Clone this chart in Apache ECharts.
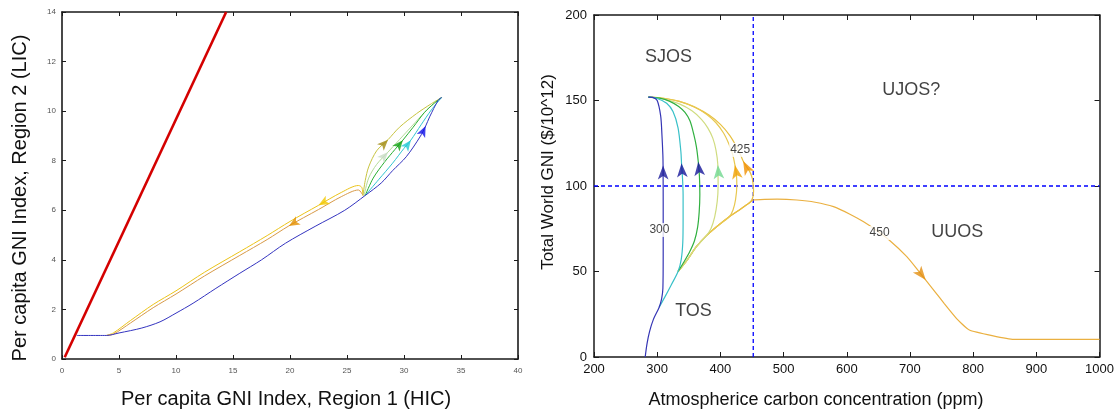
<!DOCTYPE html>
<html><head><meta charset="utf-8">
<script src="https://cdn.jsdelivr.net/npm/echarts@6/dist/echarts.min.js"></script>
<style>html,body{margin:0;padding:0;background:#fff}#c{width:1117px;height:413px}</style>
</head><body><div id="c"></div>
<script>
// ---------- DATA ----------
const leftXTicks = [0, 5, 10, 15, 20, 25, 30, 35, 40];
const leftYTicks = [0, 2, 4, 6, 8, 10, 12, 14];
const rightXTicks = [200, 300, 400, 500, 600, 700, 800, 900, 1000];
const rightYTicks = [0, 50, 100, 150, 200];

// Left panel: per-capita GNI index trajectories [HIC, LIC]
const L_red = [[0.24, 0.07], [14.4, 14]];
const L_blue = [[1.3,0.95],[3.9,0.95],[5,1.05],[7,1.25],[8.6,1.5],[10,1.85],[11.5,2.25],[13.5,2.85],[15.6,3.46],[17.5,4.0],[19.6,4.67],[22.2,5.35],[24.8,6.0],[26.6,6.6],[28,7.1],[29,7.6],[30.2,8.16],[31.4,8.96],[31.9,9.4],[32.25,9.77],[33,10.44],[33.3,10.55]];
const L_cyan = [[26.6,6.6],[27.8,7.25],[29,7.9],[30,8.5],[30.6,8.83],[31.5,9.45],[32.4,10.05],[33.3,10.55]];
const L_green = [[26.6,6.6],[27.3,7.3],[28.3,7.95],[29.2,8.45],[29.9,8.83],[30.8,9.35],[31.8,9.95],[32.6,10.3],[33.3,10.55]];
const L_pale = [[26.5,6.6],[26.9,7.3],[27.6,7.85],[28.6,8.35],[29.6,8.85],[30.7,9.4],[31.8,9.95],[32.6,10.3],[33.3,10.55]];
const L_olive = [[26.4,6.6],[26.6,7.2],[26.9,7.75],[27.6,8.4],[28.6,8.85],[29.6,9.35],[31.1,9.9],[32.4,10.3],[33.3,10.55]];
const L_yellow = [[26.4,6.6],[26.3,6.92],[26,7.0],[24.5,6.72],[22.5,6.2],[20,5.55],[18,4.98],[15.6,4.33],[12.5,3.5],[10,2.75],[8,2.2],[6,1.55],[4.5,1.05],[3.9,0.95]];
const L_orange = [[26.4,6.6],[26,6.82],[24.5,6.55],[22.5,6.03],[19.9,5.37],[18,4.82],[15.6,4.18],[12.5,3.35],[10,2.62],[8,2.07],[6,1.45],[4.5,1.0],[3.9,0.95]];

// Right panel: [ppm, Total World GNI]
const R_trunk = [[333,50],[348,57],[362,64.5],[378,71],[394,76.2],[414,82],[430,86],[441,88.9],[447,90.5]];
const R_300 = [[281,0],[284,8],[288,15],[294,22],[303,29],[307,34],[309,40],[309.5,60],[309.5,90],[309.3,112],[309,118],[307.5,130],[305.5,141],[300,150],[293,151.8],[286,152]];
const R_cyan = [[303,29],[312,35],[322,42],[333,50],[338,57],[340.5,67],[341,80],[341,95],[340,105],[338.5,113.3],[337.5,120],[333,134],[325,143.5],[315,148.4],[300,151.2],[286,152]];
const R_green = [[333,50],[343,56],[352,62],[359,68],[364,76],[366.5,85],[367.5,95],[366.8,106],[365,114.2],[362,123],[358,130],[352,138],[344,143],[334,146.5],[320,149.5],[304,151.4],[286,152]];
const R_paleBranch = [[385,75],[391,82],[395,91],[396.4,100],[396.3,106],[396,112.3],[393,121],[388,128],[380,134],[370,139],[355,144],[335,148],[310,151],[286,152]];
const R_orangeBranch = [[420,86],[424,92],[426,100],[425.5,106],[423,112.3],[419,119],[413,125],[405,131],[393,137],[378,142],[358,146.5],[335,149.5],[310,151.3],[286,152]];
const R_goldBranch = [[451,93],[452.5,97],[452,100],[450.5,104.5],[446.5,108.4],[441,111.5],[436,114.6],[433,117.2],[425.5,123],[415,129.5],[400,136],[382,141.5],[360,146],[335,149.5],[310,151.3],[286,152]];
const R_450 = [[447,90.5],[452,91.8],[470,92.2],[490,92.3],[521,91.8],[550,90.5],[579,87.9],[605,83.5],[626,79.2],[645,74.5],[667,68.4],[695,58.7],[710,52],[725,45],[740,38],[754,31.4],[775,22],[794,15.8],[830,12.5],[864,10.3],[900,10.3],[1000,10.3]];
const R_thresholdX = 452;
const R_thresholdY = 100;
const R_regionLabels = [[318,175.3,'SJOS'],[702,156.2,'UJOS?'],[775,73.1,'UUOS'],[357.5,27.1,'TOS']];
const R_curveLabels = [[303.5,74.3,'300'],[431.3,121.1,'425'],[651.9,72.5,'450']];

// ---------- BUILD ----------
const FONT = 'Liberation Sans, Arial, Helvetica, sans-serif';
const R_pale = R_trunk.slice(0,4).concat(R_paleBranch);
const R_orange = R_trunk.slice(0,6).concat(R_orangeBranch);
const R_gold = R_trunk.slice(0,9).concat(R_goldBranch);
const R_450full = R_trunk.slice(0,8).concat(R_450);
const rxMin = rightXTicks[0], rxMax = rightXTicks[rightXTicks.length - 1];
const ryMin = rightYTicks[0], ryMax = rightYTicks[rightYTicks.length - 1];
const R_vLine = [[R_thresholdX, ryMin], [R_thresholdX, ryMax]];
const R_hLine = [[rxMin, R_thresholdY], [rxMax, R_thresholdY]];

const leftTraj = [
  {d: L_yellow, c: '#ecc418', a: 4, ac: '#f2c800'},
  {d: L_orange, c: '#d89a48', a: 4, ac: '#e49000'},
  {d: L_olive, c: '#c8c440', a: 4, ac: '#a08a10'},
  {d: L_pale, c: '#b4dc98', a: 3, ac: '#c8dcc4'},
  {d: L_green, c: '#28b030', a: 4, ac: '#10a010'},
  {d: L_cyan, c: '#30c4d0', a: 4, ac: '#20c8d4'},
  {d: L_blue, c: '#3434c0', a: 18, ac: '#1010e8'}
];
const rightTraj = [
  {d: R_450full, c: '#eab040', a: 21, ac: '#e48e10', s: 0.15},
  {d: R_gold, c: '#e8c040', a: 15, ac: '#f09000', s: 0.3},
  {d: R_orange, c: '#e8c850', a: 10, ac: '#f0a000', s: 0.3},
  {d: R_pale, c: '#d0dc80', a: 9, ac: '#70d890', s: 0.3},
  {d: R_green, c: '#30b040', a: 8, ac: '#15159a', s: 0.3},
  {d: R_cyan, c: '#38c0c8', a: 9, ac: '#15159a', s: 0.3},
  {d: R_300, c: '#3535b5', a: 9, ac: '#1a1a9a', s: 0.3}
];

function mkAxis(gi, pos, min, max, interval, showLabel, fs, color, margin, lw, tl) {
  return {
    gridIndex: gi, type: 'value', position: pos, min: min, max: max, interval: interval,
    axisLine: {show: true, onZero: false, lineStyle: {color: '#1a1a1a', width: lw}},
    axisTick: {show: true, inside: true, length: tl, lineStyle: {color: '#1a1a1a', width: 1}},
    axisLabel: {show: showLabel, fontSize: fs, color: color, margin: margin, fontFamily: FONT, showMinLabel: true, showMaxLabel: true, formatter: v => String(v)},
    splitLine: {show: false}
  };
}

const series = [];
series.push({type: 'line', xAxisIndex: 0, yAxisIndex: 0, data: L_red, symbol: 'none', lineStyle: {color: '#d40000', width: 2.6}, z: 2});
leftTraj.forEach(t => series.push({type: 'line', xAxisIndex: 0, yAxisIndex: 0, data: t.d, symbol: 'none', smooth: 0.3, lineStyle: {color: t.c, width: 1}, z: 2}));
[R_vLine, R_hLine].forEach(d => series.push({type: 'line', xAxisIndex: 2, yAxisIndex: 2, data: d, symbol: 'none',
  lineStyle: {color: '#0000ff', type: [4, 3], width: 1.3}, z: 1}));
rightTraj.forEach(t => series.push({type: 'line', xAxisIndex: 2, yAxisIndex: 2, data: t.d, symbol: 'none', smooth: t.s, lineStyle: {color: t.c, width: 1.2}, z: 2}));
series.push({type: 'scatter', xAxisIndex: 2, yAxisIndex: 2, data: R_regionLabels, symbolSize: 1,
  itemStyle: {color: 'rgba(0,0,0,0)'}, z: 6,
  label: {show: true, position: 'inside', formatter: p => p.value[2], fontSize: 18, color: '#111', fontFamily: FONT}});
series.push({type: 'scatter', xAxisIndex: 2, yAxisIndex: 2, data: R_curveLabels, symbolSize: 1,
  itemStyle: {color: 'rgba(0,0,0,0)'}, z: 6,
  label: {show: true, position: 'inside', formatter: p => p.value[2], fontSize: 12, color: '#111', fontFamily: FONT, backgroundColor: '#fff', padding: [1, 1]}});

const option = {
  animation: false,
  backgroundColor: '#fff',
  grid: [
    {left: 62, top: 12, width: 456, height: 347},
    {left: 594, top: 15, width: 506, height: 342}
  ],
  xAxis: [
    mkAxis(0, 'bottom', leftXTicks[0], leftXTicks[leftXTicks.length-1], leftXTicks[1]-leftXTicks[0], true, 8, '#555', 8, 1.6, 4),
    mkAxis(0, 'top', leftXTicks[0], leftXTicks[leftXTicks.length-1], leftXTicks[1]-leftXTicks[0], false, 8, '#555', 8, 1.6, 4),
    mkAxis(1, 'bottom', rxMin, rxMax, rightXTicks[1]-rightXTicks[0], true, 13, '#111', 6, 1.5, 5),
    mkAxis(1, 'top', rxMin, rxMax, rightXTicks[1]-rightXTicks[0], false, 13, '#111', 6, 1.5, 5)
  ],
  yAxis: [
    mkAxis(0, 'left', leftYTicks[0], leftYTicks[leftYTicks.length-1], leftYTicks[1]-leftYTicks[0], true, 8, '#555', 6, 1.6, 4),
    mkAxis(0, 'right', leftYTicks[0], leftYTicks[leftYTicks.length-1], leftYTicks[1]-leftYTicks[0], false, 8, '#555', 6, 1.6, 4),
    mkAxis(1, 'left', ryMin, ryMax, rightYTicks[1]-rightYTicks[0], true, 13, '#111', 7, 1.5, 5),
    mkAxis(1, 'right', ryMin, ryMax, rightYTicks[1]-rightYTicks[0], false, 13, '#111', 7, 1.5, 5)
  ],
  graphic: [
    {type: 'text', x: 20, y: 198, rotation: Math.PI / 2, style: {text: 'Per capita GNI Index, Region 2 (LIC)', font: '20px ' + FONT, fill: '#111', textAlign: 'center', textVerticalAlign: 'middle'}},
    {type: 'text', x: 286, y: 399, style: {text: 'Per capita GNI Index, Region 1 (HIC)', font: '20px ' + FONT, fill: '#111', textAlign: 'center', textVerticalAlign: 'middle'}},
    {type: 'text', x: 548, y: 172, rotation: Math.PI / 2, style: {text: 'Total World GNI ($/10^12)', font: '17px ' + FONT, fill: '#111', textAlign: 'center', textVerticalAlign: 'middle'}},
    {type: 'text', x: 816, y: 400, style: {text: 'Atmospherice carbon concentration (ppm)', font: '18px ' + FONT, fill: '#111', textAlign: 'center', textVerticalAlign: 'middle'}}
  ],
  series: series
};

const chart = echarts.init(document.getElementById('c'), null, {renderer: 'canvas'});
chart.setOption(option);

function arrowItems(list, gi) {
  return list.map(t => {
    const p = t.d, i = t.a;
    const a = chart.convertToPixel({gridIndex: gi}, p[i - 1]);
    const b = chart.convertToPixel({gridIndex: gi}, p[i + 1]);
    const ang = Math.atan2(-(b[1] - a[1]), b[0] - a[0]) * 180 / Math.PI - 90;
    return {value: p[i], symbolRotate: ang, itemStyle: {color: t.ac}};
  });
}
const extra = series.slice();
extra.push({type: 'scatter', xAxisIndex: 0, yAxisIndex: 0, symbol: 'arrow', symbolSize: [7, 11], z: 4, data: arrowItems(leftTraj, 0)});
extra.push({type: 'scatter', xAxisIndex: 2, yAxisIndex: 2, symbol: 'arrow', symbolSize: [8, 14], z: 4, data: arrowItems(rightTraj, 1)});
chart.setOption({series: extra});
</script>
</body></html>
